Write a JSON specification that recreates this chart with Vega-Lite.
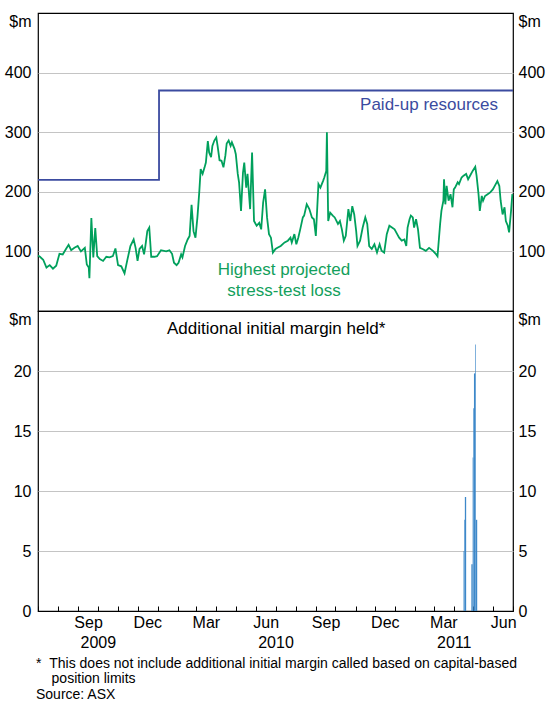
{
  "$schema": "https://vega.github.io/schema/vega-lite/v6.json",
  "background": "white",
  "padding": {"left": 3, "right": 2, "top": 12, "bottom": 2},
  "config": {
    "font": "Liberation Sans",
    "view": {"stroke": "#000000", "strokeWidth": 1.2},
    "axis": {"labelFont": "Liberation Sans", "labelFontSize": 16, "labelColor": "#000000", "gridColor": "#c4c4c4", "gridWidth": 1.2, "domain": false, "ticks": false, "title": null}
  },
  "datasets": {
    "loss": [
      {"date":"2009-07-01","value":93},{"date":"2009-07-04","value":91},{"date":"2009-07-09","value":86},{"date":"2009-07-14","value":73},{"date":"2009-07-19","value":77},{"date":"2009-07-24","value":71},{"date":"2009-07-29","value":76},{"date":"2009-08-03","value":96},{"date":"2009-08-08","value":95},{"date":"2009-08-13","value":104},{"date":"2009-08-17","value":111},{"date":"2009-08-21","value":102},{"date":"2009-08-26","value":106},{"date":"2009-08-31","value":109},{"date":"2009-09-05","value":100},{"date":"2009-09-11","value":106},{"date":"2009-09-14","value":78},{"date":"2009-09-17","value":73},{"date":"2009-09-18","value":55},{"date":"2009-09-21","value":156},{"date":"2009-09-24","value":90},{"date":"2009-09-27","value":139},{"date":"2009-09-30","value":92},{"date":"2009-10-04","value":87},{"date":"2009-10-09","value":84},{"date":"2009-10-14","value":91},{"date":"2009-10-19","value":90},{"date":"2009-10-24","value":92},{"date":"2009-10-28","value":105},{"date":"2009-11-01","value":77},{"date":"2009-11-06","value":75},{"date":"2009-11-11","value":63},{"date":"2009-11-15","value":84},{"date":"2009-11-20","value":109},{"date":"2009-11-25","value":120},{"date":"2009-11-28","value":106},{"date":"2009-12-01","value":84},{"date":"2009-12-04","value":104},{"date":"2009-12-08","value":109},{"date":"2009-12-11","value":95},{"date":"2009-12-13","value":109},{"date":"2009-12-16","value":134},{"date":"2009-12-19","value":140},{"date":"2009-12-22","value":91},{"date":"2009-12-27","value":91},{"date":"2009-12-31","value":92},
      {"date":"2010-01-06","value":102},{"date":"2010-01-14","value":100},{"date":"2010-01-19","value":102},{"date":"2010-01-23","value":96},{"date":"2010-01-26","value":81},{"date":"2010-01-30","value":77},{"date":"2010-02-02","value":81},{"date":"2010-02-06","value":95},{"date":"2010-02-08","value":90},{"date":"2010-02-12","value":109},{"date":"2010-02-16","value":120},{"date":"2010-02-19","value":126},{"date":"2010-02-22","value":178},{"date":"2010-02-25","value":134},{"date":"2010-02-28","value":123},{"date":"2010-03-03","value":157},{"date":"2010-03-06","value":202},{"date":"2010-03-08","value":238},{"date":"2010-03-11","value":230},{"date":"2010-03-14","value":241},{"date":"2010-03-16","value":249},{"date":"2010-03-19","value":285},{"date":"2010-03-21","value":266},{"date":"2010-03-24","value":258},{"date":"2010-03-26","value":277},{"date":"2010-03-29","value":286},{"date":"2010-04-01","value":291},{"date":"2010-04-03","value":277},{"date":"2010-04-06","value":253},{"date":"2010-04-09","value":252},{"date":"2010-04-12","value":241},{"date":"2010-04-15","value":261},{"date":"2010-04-17","value":281},{"date":"2010-04-20","value":286},{"date":"2010-04-23","value":277},{"date":"2010-04-25","value":283},{"date":"2010-04-29","value":272},{"date":"2010-05-01","value":263},{"date":"2010-05-04","value":230},{"date":"2010-05-06","value":216},{"date":"2010-05-09","value":168},{"date":"2010-05-12","value":232},{"date":"2010-05-14","value":249},{"date":"2010-05-17","value":207},{"date":"2010-05-19","value":230},{"date":"2010-05-23","value":171},{"date":"2010-05-26","value":266},{"date":"2010-05-29","value":151},{"date":"2010-06-02","value":143},{"date":"2010-06-06","value":148},{"date":"2010-06-09","value":137},{"date":"2010-06-12","value":182},{"date":"2010-06-15","value":204},{"date":"2010-06-18","value":157},{"date":"2010-06-21","value":129},{"date":"2010-06-24","value":123},{"date":"2010-06-27","value":98},
      {"date":"2010-07-01","value":104},{"date":"2010-07-04","value":106},{"date":"2010-07-09","value":109},{"date":"2010-07-15","value":115},{"date":"2010-07-20","value":118},{"date":"2010-07-24","value":123},{"date":"2010-07-26","value":115},{"date":"2010-07-30","value":129},{"date":"2010-08-02","value":112},{"date":"2010-08-05","value":123},{"date":"2010-08-08","value":137},{"date":"2010-08-12","value":157},{"date":"2010-08-14","value":160},{"date":"2010-08-18","value":179},{"date":"2010-08-22","value":171},{"date":"2010-08-26","value":157},{"date":"2010-08-29","value":154},{"date":"2010-09-01","value":126},{"date":"2010-09-05","value":213},{"date":"2010-09-08","value":207},{"date":"2010-09-12","value":218},{"date":"2010-09-14","value":224},{"date":"2010-09-17","value":235},{"date":"2010-09-18","value":300},{"date":"2010-09-20","value":151},{"date":"2010-09-23","value":165},{"date":"2010-09-27","value":160},{"date":"2010-09-30","value":157},{"date":"2010-10-05","value":146},{"date":"2010-10-08","value":151},{"date":"2010-10-11","value":137},{"date":"2010-10-14","value":118},{"date":"2010-10-17","value":126},{"date":"2010-10-21","value":171},{"date":"2010-10-24","value":151},{"date":"2010-10-27","value":176},{"date":"2010-10-30","value":162},{"date":"2010-11-02","value":134},{"date":"2010-11-04","value":109},{"date":"2010-11-08","value":118},{"date":"2010-11-12","value":140},{"date":"2010-11-16","value":157},{"date":"2010-11-19","value":146},{"date":"2010-11-22","value":109},{"date":"2010-11-26","value":104},{"date":"2010-11-30","value":112},{"date":"2010-12-04","value":98},{"date":"2010-12-08","value":112},{"date":"2010-12-11","value":101},{"date":"2010-12-15","value":98},{"date":"2010-12-19","value":129},{"date":"2010-12-23","value":143},{"date":"2010-12-27","value":140},{"date":"2010-12-31","value":137},
      {"date":"2011-01-04","value":129},{"date":"2011-01-07","value":123},{"date":"2011-01-11","value":118},{"date":"2011-01-15","value":120},{"date":"2011-01-18","value":109},{"date":"2011-01-20","value":140},{"date":"2011-01-23","value":154},{"date":"2011-01-25","value":160},{"date":"2011-01-28","value":157},{"date":"2011-01-30","value":140},{"date":"2011-02-02","value":154},{"date":"2011-02-05","value":137},{"date":"2011-02-08","value":106},{"date":"2011-02-12","value":104},{"date":"2011-02-17","value":101},{"date":"2011-02-22","value":106},{"date":"2011-02-28","value":101},{"date":"2011-03-05","value":95},{"date":"2011-03-07","value":92},{"date":"2011-03-11","value":146},{"date":"2011-03-13","value":168},{"date":"2011-03-16","value":185},{"date":"2011-03-17","value":221},{"date":"2011-03-19","value":179},{"date":"2011-03-21","value":210},{"date":"2011-03-24","value":185},{"date":"2011-03-27","value":196},{"date":"2011-03-30","value":174},{"date":"2011-04-01","value":204},{"date":"2011-04-03","value":207},{"date":"2011-04-07","value":216},{"date":"2011-04-09","value":213},{"date":"2011-04-13","value":224},{"date":"2011-04-16","value":227},{"date":"2011-04-20","value":230},{"date":"2011-04-23","value":221},{"date":"2011-04-26","value":227},{"date":"2011-04-30","value":235},{"date":"2011-05-04","value":242},{"date":"2011-05-06","value":227},{"date":"2011-05-09","value":196},{"date":"2011-05-11","value":168},{"date":"2011-05-14","value":193},{"date":"2011-05-16","value":185},{"date":"2011-05-19","value":193},{"date":"2011-05-23","value":196},{"date":"2011-05-27","value":199},{"date":"2011-05-31","value":204},{"date":"2011-06-03","value":210},{"date":"2011-06-07","value":218},{"date":"2011-06-10","value":210},{"date":"2011-06-12","value":185},{"date":"2011-06-15","value":162},{"date":"2011-06-18","value":174},{"date":"2011-06-20","value":151},{"date":"2011-06-23","value":143},{"date":"2011-06-25","value":132},{"date":"2011-06-28","value":168},{"date":"2011-06-30","value":196}
    ],
    "paid": [
      {"date":"2009-07-01","value":220},{"date":"2010-01-03","value":370},{"date":"2011-07-01","value":370}
    ],
    "margin": [
      {"start":"2011-04-16","end":"2011-04-17","value":5.0},
      {"start":"2011-04-17","end":"2011-04-18","value":7.6},
      {"start":"2011-04-18","end":"2011-04-20","value":9.5},
      {"start":"2011-04-28","end":"2011-04-30","value":3.9},
      {"start":"2011-04-30","end":"2011-05-01","value":12.8},
      {"start":"2011-05-01","end":"2011-05-02","value":16.9},
      {"start":"2011-05-02","end":"2011-05-04","value":19.8},
      {"start":"2011-05-04","end":"2011-05-05","value":22.2},
      {"start":"2011-05-05","end":"2011-05-07","value":7.6}
    ]
  },
  "spacing": 0,
  "bounds": "flush",
  "vconcat": [
    {
      "width": 475,
      "height": 298,
      "layer": [
        {
          "data": {"name": "loss"},
          "mark": {"type": "line", "color": "#00a05c", "strokeWidth": 1.8},
          "encoding": {
            "x": {"field": "date", "type": "temporal", "scale": {"type": "utc", "domain": [{"year": 2009, "month": 7, "date": 1, "utc": true}, {"year": 2011, "month": 7, "date": 1, "utc": true}]}, "axis": null},
            "y": {"field": "value", "type": "quantitative", "scale": {"domain": [0, 500], "nice": false},
              "axis": {"orient": "left", "values": [100, 200, 300, 400, 500], "grid": true,
                "gridOpacity": {"condition": {"test": "datum.value == 500", "value": 0}, "value": 1},
                "labelExpr": "datum.value == 500 ? '$m' : datum.label",
                "labelBaseline": {"condition": {"test": "datum.value == 500", "value": "top"}, "value": "middle"},
                "labelPadding": 7}}
          }
        },
        {
          "data": {"name": "paid"},
          "mark": {"type": "line", "interpolate": "step-after", "color": "#3b4ba0", "strokeWidth": 1.8},
          "encoding": {
            "x": {"field": "date", "type": "temporal", "axis": null},
            "y": {"field": "value", "type": "quantitative",
              "axis": {"orient": "right", "values": [100, 200, 300, 400, 500], "grid": false,
                "labelExpr": "datum.value == 500 ? '$m' : datum.label",
                "labelBaseline": {"condition": {"test": "datum.value == 500", "value": "top"}, "value": "middle"},
                "labelPadding": 5}}
          }
        },
        {
          "data": {"values": [{"date": "2011-02-22", "value": 346, "label": "Paid-up resources"}]},
          "mark": {"type": "text", "color": "#3b4ba0", "fontSize": 17, "align": "center", "baseline": "middle"},
          "encoding": {
            "x": {"field": "date", "type": "temporal", "axis": null},
            "y": {"field": "value", "type": "quantitative", "axis": null},
            "text": {"field": "label"}
          }
        },
        {
          "data": {"values": [{"date": "2010-07-14", "value": 69, "label": "Highest projected\nstress-test loss"}]},
          "mark": {"type": "text", "color": "#13a05c", "fontSize": 17, "align": "center", "baseline": "middle", "lineBreak": "\n", "lineHeight": 21},
          "encoding": {
            "x": {"field": "date", "type": "temporal", "axis": null},
            "y": {"field": "value", "type": "quantitative", "axis": null},
            "text": {"field": "label"}
          }
        }
      ],
      "resolve": {"axis": {"y": "independent"}}
    },
    {
      "width": 475,
      "height": 300,
      "layer": [
        {
          "data": {"name": "margin"},
          "mark": {"type": "bar", "color": "#3d88c9"},
          "encoding": {
            "x": {"field": "start", "type": "temporal", "scale": {"type": "utc", "domain": [{"year": 2009, "month": 7, "date": 1, "utc": true}, {"year": 2011, "month": 7, "date": 1, "utc": true}]},
              "axis": {"orient": "bottom", "tickCount": {"interval": "month", "step": 1}, "labels": false, "ticks": true, "tickSize": -5, "tickColor": "#000000", "tickWidth": 1, "grid": false, "domain": false}},
            "x2": {"field": "end"},
            "y": {"field": "value", "type": "quantitative", "scale": {"domain": [0, 25], "nice": false},
              "axis": {"orient": "left", "values": [0, 5, 10, 15, 20, 25], "grid": true,
                "gridOpacity": {"condition": {"test": "datum.value == 25 || datum.value == 0", "value": 0}, "value": 1},
                "labelExpr": "datum.value == 25 ? '$m' : datum.label",
                "labelBaseline": {"condition": {"test": "datum.value == 25", "value": "top"}, "value": "middle"},
                "labelPadding": 7}},
            "y2": {"datum": 0}
          }
        },
        {
          "data": {"values": [{"date": "2010-07-02", "value": 23.5, "label": "Additional initial margin held*"}]},
          "mark": {"type": "text", "color": "#000000", "fontSize": 17, "align": "center", "baseline": "middle"},
          "encoding": {
            "x": {"field": "date", "type": "temporal",
              "axis": {"orient": "bottom", "values": [
                {"year": 2009, "month": 9, "date": 16, "utc": true}, {"year": 2009, "month": 12, "date": 16, "utc": true},
                {"year": 2010, "month": 3, "date": 16, "utc": true}, {"year": 2010, "month": 6, "date": 16, "utc": true},
                {"year": 2010, "month": 9, "date": 16, "utc": true}, {"year": 2010, "month": 12, "date": 16, "utc": true},
                {"year": 2011, "month": 3, "date": 16, "utc": true}, {"year": 2011, "month": 6, "date": 16, "utc": true}],
                "labelExpr": "utcFormat(datum.value, '%b')", "labelFlush": false, "labelOverlap": false, "labelPadding": 3, "grid": false}},
            "y": {"field": "value", "type": "quantitative",
              "axis": {"orient": "right", "values": [0, 5, 10, 15, 20, 25], "grid": false,
                "labelExpr": "datum.value == 25 ? '$m' : datum.label",
                "labelBaseline": {"condition": {"test": "datum.value == 25", "value": "top"}, "value": "middle"},
                "labelPadding": 5}},
            "text": {"field": "label"}
          }
        },
        {
          "data": {"name": "margin"},
          "mark": {"type": "point", "opacity": 0},
          "encoding": {
            "x": {"field": "start", "type": "temporal",
              "axis": {"orient": "bottom", "values": [
                {"year": 2009, "month": 10, "date": 1, "utc": true}, {"year": 2010, "month": 7, "date": 1, "utc": true}, {"year": 2011, "month": 4, "date": 1, "utc": true}],
                "labelExpr": "utcFormat(datum.value, '%Y')", "labelFlush": false, "labelOverlap": false, "labelPadding": 23, "grid": false}},
            "y": {"field": "value", "type": "quantitative", "axis": null}
          }
        }
      ],
      "resolve": {"axis": {"x": "independent", "y": "independent"}}
    }
  ],
  "title": {
    "text": ["*\u00a0\u00a0This does not include additional initial margin called based on capital-based", "\u200b\u00a0\u00a0\u00a0\u00a0position limits", "Source: ASX"],
    "orient": "bottom", "anchor": "start", "frame": "group", "font": "Liberation Sans", "fontSize": 14, "fontWeight": "normal", "color": "#000000", "lineHeight": 15.5, "offset": 6, "dx": -2
  }
}
